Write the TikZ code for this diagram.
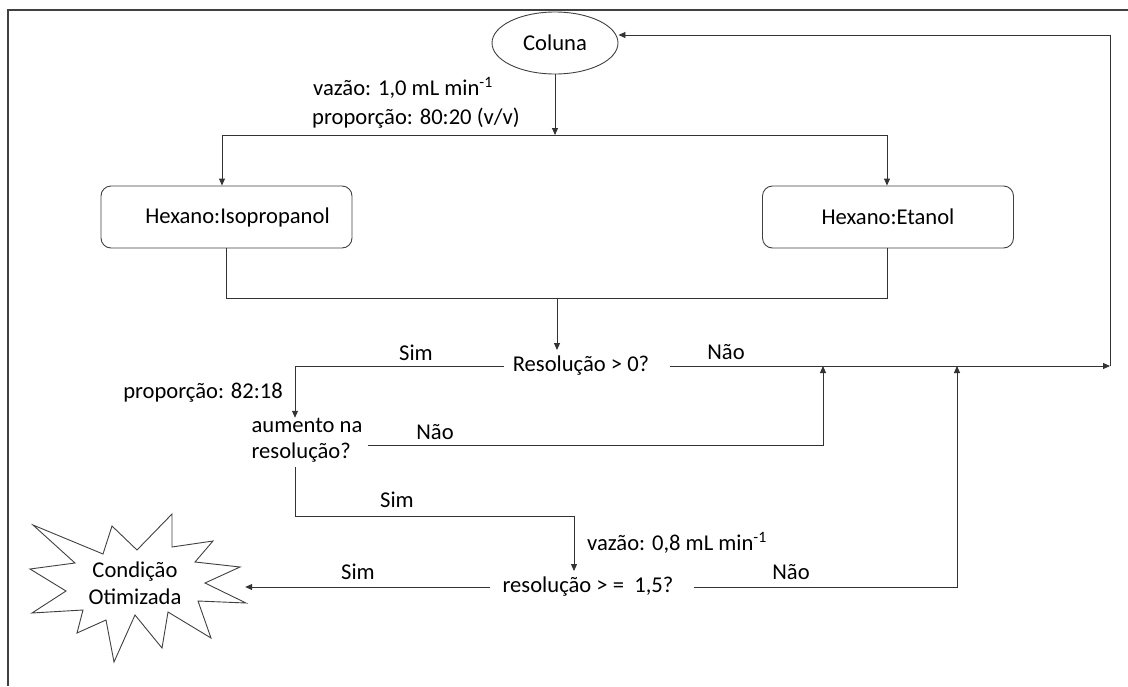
\documentclass[tikz,border=0pt]{standalone}
\usepackage{fontspec}
\setmainfont{Carlito}
\usetikzlibrary{arrows.meta,shapes.geometric}
\begin{document}
\begin{tikzpicture}[x=1pt,y=-1pt,
  every node/.style={font=\fontsize{22.6}{26}\selectfont, text=black},
  line/.style={draw=black!80, line width=0.9pt},
  arr/.style={line, -{Triangle[length=7pt,width=6pt]}},
  lbl/.style={inner sep=0pt},
  txt/.style={inner ysep=6pt},
  rbox/.style={draw=black!75, line width=0.9pt, rounded corners=10pt, minimum width=251pt, minimum height=62pt, inner sep=0pt},
  frame/.style={draw=black!75, line width=1.2pt},
  starline/.style={draw=black!75, line width=0.9pt, line join=miter}
]
\useasboundingbox (0,0) rectangle (1128,686);
\draw[frame] (8,686) -- (8,10) -- (1128,10);

% top part
\node[ellipse, draw=black!75, line width=0.9pt, minimum width=126pt, minimum height=62pt, inner sep=0pt] (coluna) at (555,43) {Coluna};
\coordinate (sl) at (222,135);
\coordinate (sr) at (887,135);
\node[rbox] (iso) at (226.5,217) {\hspace*{22pt}Hexano:Isopropanol};
\node[rbox] (eta) at (888,217) {Hexano:Etanol};
\draw[arr] (coluna.south) -- (coluna.south |- sl);
\draw[line] (sl) -- (sr);
\draw[arr] (sl) -- (sl |- iso.north);
\draw[arr] (sr) -- (sr |- eta.north);
\node[lbl, anchor=west] (vaz1) at (313,88) {vazão: 1,0 mL min\textsuperscript{-1}};
\node[lbl, anchor=west] (prop1) at (312,118) {proporção: 80:20 (v/v)};

% merge
\coordinate (mr) at (887,298);
\coordinate (mm) at (557,298);
\draw[line] (iso.south) -- (iso.south |- mr) -- (mr) -- (mr |- eta.south);

% first decision
\node[txt, inner xsep=9pt] (res0) at (581,366) {Resolução > 0?};
\draw[arr] (mm) -- (mm |- res0.north);
\node[lbl] (simA) at (416,353) {Sim};
\node[lbl] (naoA) at (726,352) {Não};

\coordinate (c1) at (295,366);
\node[inner xsep=5pt, inner ysep=0pt, align=left] (aum) at (307,440) {aumento na\\resolução?};
\draw[arr] (res0.west) -- (c1) -- (c1 |- aum.north);
\node[lbl, anchor=east] (prop2) at (283,393) {proporção: 82:18};

% return lines
\coordinate (n1) at (1110,366);
\coordinate (tr) at (1110,35);
\draw[arr] ([xshift=12pt]res0.east) -- (n1);
\draw[arr] (n1) -- (tr) -- (tr -| coluna.east);

\coordinate (n2) at (823,445);
\draw[arr] (aum.east |- n2) -- (n2) -- (n2 |- res0);
\node[lbl] (naoB) at (435,432) {Não};

% second decision
\coordinate (c3) at (295,516);
\coordinate (c4) at (574,516);
\node[txt, inner xsep=12pt] (res15) at (588,587) {resolução > =~~1,5?};
\draw[arr] ([yshift=-5pt]aum.south -| c3) -- (c3) -- (c4) -- (c4 |- res15.north);
\node[lbl] (simB) at (397,500) {Sim};
\node[lbl, anchor=west] (vaz2) at (587,543) {vazão: 0,8 mL min\textsuperscript{-1}};

\coordinate (n3) at (957,586);
\draw[arr] ([xshift=8pt]res15.east) -- (res15.east -| n3) -- (n3 |- res0);
\node[lbl] (naoC) at (791,572) {Não};

% star
\draw[starline] (33,525) -- (103,554) -- (112,526) -- (137,550) -- (172,514) -- (172,547)
  -- (213,541) -- (195,562) -- (240,567) -- (205,583) -- (246,603) -- (198,601)
  -- (211,638) -- (168,612) -- (162,648) -- (135,615) -- (114,662) -- (106,620)
  -- (77,633) -- (83,610) -- (32,613) -- (66,591) -- (30,569) -- (75,563) -- cycle;
\node[align=center, minimum width=220pt, inner sep=0pt, font=\fontsize{22.6}{27}\selectfont] (star) at (135,583) {Condição\\Otimizada};
\draw[arr] (res15.west) -- (res15.west -| star.east);
\node[lbl] (simC) at (358,572) {Sim};
\end{tikzpicture}
\end{document}
